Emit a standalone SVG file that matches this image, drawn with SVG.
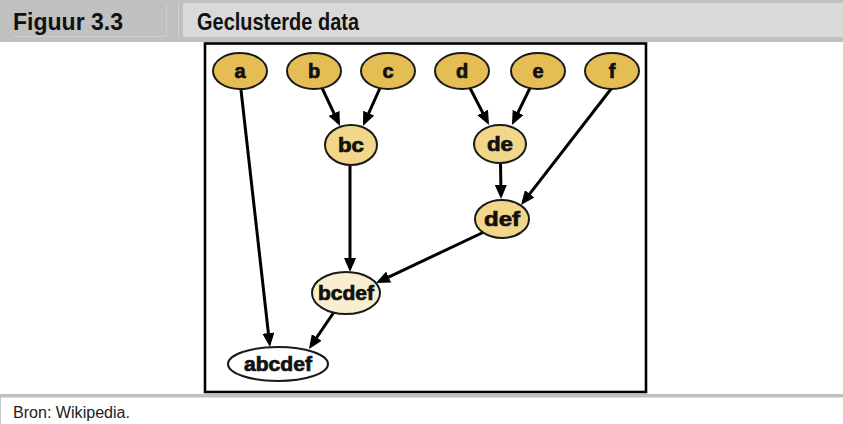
<svg xmlns="http://www.w3.org/2000/svg" width="843" height="424" viewBox="0 0 843 424">
<style>
.hdr{font-family:"Liberation Sans",Arial,sans-serif;font-weight:bold;font-size:23px;fill:#111}
.src{font-family:"Liberation Sans",Arial,sans-serif;font-size:16px;fill:#222}
.lbl{font-family:"Liberation Sans",Arial,sans-serif;font-weight:bold;font-size:20px;fill:#111;stroke:#111;stroke-width:0.7;text-anchor:middle}
.nd{stroke:#1a1a1a;stroke-width:2}
.top{fill:#e5bd55}
.mid{fill:#f2d78a}
.lt{fill:#f7efcf}
.wh{fill:#ffffff}
.edge{stroke:#000;stroke-width:3;fill:none;marker-end:url(#ah)}
</style>
<defs>
<marker id="ah" markerUnits="userSpaceOnUse" viewBox="0 0 14 12" markerWidth="14" markerHeight="12" refX="10" refY="6" orient="auto">
<path d="M0,0 L14,6 L0,12 z" fill="#000"/>
</marker>
</defs>
<rect x="0" y="0" width="843" height="424" fill="#ffffff"/>
<g id="header">
<rect x="0" y="0" width="843" height="42" fill="#c0c0c0"/>
<rect x="183" y="3" width="660" height="34" fill="#d9d9d9"/>
<line x1="166.5" y1="3" x2="166.5" y2="37" stroke="#cfcfcf" stroke-width="1"/>
<line x1="178.5" y1="3" x2="178.5" y2="37" stroke="#cfcfcf" stroke-width="1"/>
<line x1="13" y1="36.5" x2="166" y2="36.5" stroke="#cfcfcf" stroke-width="1"/>
<text class="hdr" x="13" y="30" textLength="110" lengthAdjust="spacingAndGlyphs">Figuur 3.3</text>
<text class="hdr" x="197" y="30" textLength="162" lengthAdjust="spacingAndGlyphs">Geclusterde data</text>
</g>
<rect x="205" y="43.5" width="441" height="348.5" fill="#ffffff" stroke="#000" stroke-width="2.6"/>
<g id="connectors">
<path class="edge" d="M241,90 L269.5,343"/>
<path class="edge" d="M322,88 L338.3,122.4"/>
<path class="edge" d="M380,88 L364.6,122.3"/>
<path class="edge" d="M470,88 L487.2,121.4"/>
<path class="edge" d="M530,88 L513.7,121.4"/>
<path class="edge" d="M611,89 L523.5,201.8"/>
<path class="edge" d="M500.5,163 L501,195"/>
<path class="edge" d="M350,165 L350,268"/>
<path class="edge" d="M484,232 L379.6,281.3"/>
<path class="edge" d="M334,312 L311.2,345.7"/>
</g>
<g id="node-a"><ellipse class="nd top" cx="240" cy="71" rx="27" ry="18"/><text class="lbl" x="240" y="78">a</text></g>
<g id="node-b"><ellipse class="nd top" cx="314" cy="71" rx="27" ry="18"/><text class="lbl" x="314" y="78">b</text></g>
<g id="node-c"><ellipse class="nd top" cx="388" cy="71" rx="27" ry="18"/><text class="lbl" x="388" y="78">c</text></g>
<g id="node-d"><ellipse class="nd top" cx="462" cy="71" rx="27" ry="18"/><text class="lbl" x="462" y="78">d</text></g>
<g id="node-e"><ellipse class="nd top" cx="538" cy="71" rx="27" ry="18"/><text class="lbl" x="538" y="78">e</text></g>
<g id="node-f"><ellipse class="nd top" cx="612" cy="71" rx="27" ry="18"/><text class="lbl" x="612" y="78">f</text></g>
<g id="node-bc"><ellipse class="nd mid" cx="351" cy="145" rx="26" ry="20"/><text class="lbl" x="351" y="152" textLength="26" lengthAdjust="spacingAndGlyphs">bc</text></g>
<g id="node-de"><ellipse class="nd mid" cx="500" cy="144" rx="26" ry="19"/><text class="lbl" x="500" y="151" textLength="26" lengthAdjust="spacingAndGlyphs">de</text></g>
<g id="node-def"><ellipse class="nd mid" cx="502" cy="219" rx="27" ry="19"/><text class="lbl" x="502" y="226" textLength="36" lengthAdjust="spacingAndGlyphs">def</text></g>
<g id="node-bcdef"><ellipse class="nd lt" cx="346" cy="293" rx="34" ry="21"/><text class="lbl" x="346" y="300" textLength="56" lengthAdjust="spacingAndGlyphs">bcdef</text></g>
<g id="node-abcdef"><ellipse class="nd wh" cx="278" cy="364" rx="50" ry="17"/><text class="lbl" x="278" y="371" textLength="68" lengthAdjust="spacingAndGlyphs">abcdef</text></g>
<g id="footer">
<rect x="0" y="394" width="843" height="3.5" fill="#c0c0c0"/>
<line x1="0.5" y1="397" x2="0.5" y2="424" stroke="#c8c8c8" stroke-width="1"/>
<text class="src" x="13" y="418" textLength="117" lengthAdjust="spacingAndGlyphs">Bron: Wikipedia.</text>
</g>
</svg>
